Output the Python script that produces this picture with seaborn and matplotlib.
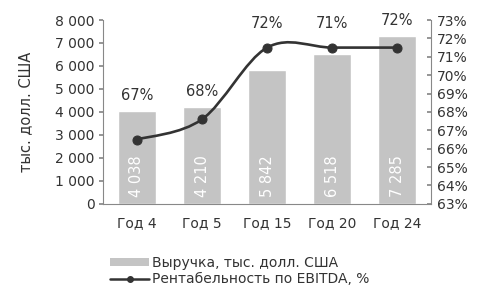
import matplotlib
matplotlib.use("Agg")
import matplotlib.pyplot as plt
from matplotlib.path import Path
from matplotlib.patches import PathPatch, Patch
from matplotlib.lines import Line2D
from matplotlib.ticker import FuncFormatter, MultipleLocator
import seaborn as sns
import pandas as pd
import numpy as np

categories = ["Год 4", "Год 5", "Год 15", "Год 20", "Год 24"]
revenue = [4038, 4210, 5842, 6518, 7285]
revenue_labels = ["4 038", "4 210", "5 842", "6 518", "7 285"]
margin = [66.5, 67.6, 71.5, 71.5, 71.5]
margin_labels = ["67%", "68%", "72%", "71%", "72%"]

sns.set_theme(style="white")
plt.rcParams['font.family'] = ['DejaVu Sans']

fig = plt.figure(figsize=(4.8, 2.9), dpi=100)
ax = fig.add_axes([0.215, 0.297, 0.683, 0.634])
df = pd.DataFrame({"cat": categories, "rev": revenue, "m": margin})

sns.barplot(data=df, x="cat", y="rev", color="#c4c4c4", width=0.58, ax=ax,
            saturation=1)
ax.set_ylim(0, 8000)
ax.yaxis.set_major_locator(MultipleLocator(1000))
ax.yaxis.set_major_formatter(FuncFormatter(lambda v, p: f"{int(v):,}".replace(",", " ")))
ax.set_xlabel("")
ax.set_ylabel("тыс. долл. США", fontsize=10.5, color="#333333", labelpad=16)
for s in ["top", "right"]:
    ax.spines[s].set_visible(False)
for s in ["left", "bottom"]:
    ax.spines[s].set_color("#888888")
    ax.spines[s].set_linewidth(0.8)
ax.tick_params(axis="y", left=True, length=3, color="#888888", labelsize=10,
               labelcolor="#333333", pad=3)
ax.tick_params(axis="x", bottom=False, labelsize=10, labelcolor="#333333", pad=3)

for i, (v, lab) in enumerate(zip(revenue, revenue_labels)):
    ax.annotate(lab, (i, 0), xytext=(0, 5), textcoords="offset points",
                rotation=90, ha="center", va="bottom", color="white", fontsize=10.5)

ax2 = ax.twinx()
ax2.set_ylim(63, 73)
ax2.yaxis.set_major_locator(MultipleLocator(1))
ax2.yaxis.set_major_formatter(FuncFormatter(lambda v, p: f"{int(round(v))}%"))
for s in ["top", "left", "bottom"]:
    ax2.spines[s].set_visible(False)
ax2.spines["right"].set_color("#888888")
ax2.spines["right"].set_linewidth(0.8)
ax2.tick_params(axis="y", right=True, direction="in", length=3, color="#888888",
                labelsize=10, labelcolor="#333333", pad=4)

sns.lineplot(data=df, x="cat", y="m", ax=ax2, marker="o", markersize=6.5,
             color="#333333", linestyle="", markeredgecolor="#333333", legend=False)
ax2.set_ylabel("")
ax2.set_xlabel("")

# smoothed connecting line (Catmull-Rom as cubic Bezier)
xs = np.arange(len(margin), dtype=float)
ys = np.array(margin, dtype=float)
verts = [(xs[0], ys[0])]
codes = [Path.MOVETO]
t = 1 / 6
for i in range(len(xs) - 1):
    p0 = (xs[max(i - 1, 0)], ys[max(i - 1, 0)])
    p1 = (xs[i], ys[i])
    p2 = (xs[i + 1], ys[i + 1])
    p3 = (xs[min(i + 2, len(xs) - 1)], ys[min(i + 2, len(xs) - 1)])
    c1 = (p1[0] + (p2[0] - p0[0]) * t, p1[1] + (p2[1] - p0[1]) * t)
    c2 = (p2[0] - (p3[0] - p1[0]) * t, p2[1] - (p3[1] - p1[1]) * t)
    verts += [c1, c2, p2]
    codes += [Path.CURVE4] * 3
ax2.add_patch(PathPatch(Path(verts, codes), fill=False, edgecolor="#333333", lw=1.9))

for i, (v, lab) in enumerate(zip(margin, margin_labels)):
    bar_top = revenue[i] / 8000 * 10 + 63
    top = max(bar_top, v)
    off = 6 if bar_top >= v else 12
    ax2.annotate(lab, (i, top), xytext=(0, off), textcoords="offset points",
                 ha="center", va="bottom", fontsize=10.5, color="#333333",
                 annotation_clip=False)

handles = [Patch(facecolor="#c4c4c4", edgecolor="none"),
           Line2D([0], [0], color="#333333", lw=1.8, marker="o", markersize=4)]
fig.legend(handles, ["Выручка, тыс. долл. США", "Рентабельность по EBITDA, %"],
           loc="center", bbox_to_anchor=(0.5, 0.065), frameon=False, fontsize=10,
           handlelength=2.8, handleheight=0.45, handletextpad=0.2, labelspacing=0.15,
           labelcolor="#333333")

fig.savefig("out.png", dpi=100)
